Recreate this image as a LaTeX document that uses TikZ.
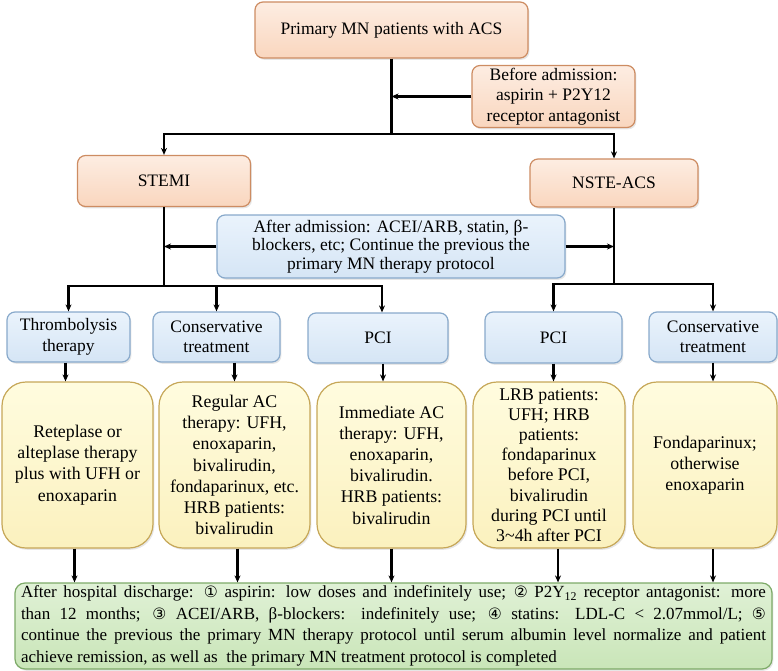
\documentclass[tikz,border=0pt]{standalone}
\usepackage{fontspec}
\setmainfont{Liberation Serif}
\newfontfamily\circfont[Scale=0.92]{DejaVu Sans}
\usetikzlibrary{arrows.meta,shadows}

\definecolor{orangetop}{HTML}{FDEDE2}
\definecolor{orangebot}{HTML}{F9D6BE}
\definecolor{orangeline}{HTML}{CD8C62}
\definecolor{bluetop}{HTML}{EAF3FC}
\definecolor{bluebot}{HTML}{D5E5F5}
\definecolor{blueline}{HTML}{88A9CB}
\definecolor{yellowtop}{HTML}{FFFCDF}
\definecolor{yellowbot}{HTML}{FBF1BE}
\definecolor{yellowline}{HTML}{C6A758}
\definecolor{greentop}{HTML}{E0F1D6}
\definecolor{greenbot}{HTML}{C9E5B8}
\definecolor{greenline}{HTML}{7DAA68}

\newcommand{\cnum}[1]{{\circfont #1}}

\tikzset{
    box/.style={draw, line width=1.2pt, align=center, inner sep=2pt,
        font=\fontsize{17.5}{20.5}\selectfont,
        drop shadow={opacity=0.2, shadow xshift=1.4pt, shadow yshift=-1.8pt}},
    orangebox/.style={box, rounded corners=8pt, draw=orangeline,
        top color=orangetop, bottom color=orangebot},
    bluebox/.style={box, rounded corners=8pt, draw=blueline,
        top color=bluetop, bottom color=bluebot},
    yellowbox/.style={box, rounded corners=24pt, draw=yellowline,
        top color=yellowtop, bottom color=yellowbot, minimum height=166pt,
        font=\fontsize{17.8}{21.2}\selectfont},
    greenbox/.style={box, rounded corners=10pt, draw=greenline,
        top color=greentop, bottom color=greenbot},
    link/.style={line width=2.2pt},
    arr/.style={link, -{Stealth[length=7pt,width=6pt]}}
}

\begin{document}
\begin{tikzpicture}[x=1pt,y=-1pt]
    \useasboundingbox (0,0) rectangle (778,671);

    % Top level
    \node[orangebox, minimum width=273pt, minimum height=56pt] (acs) at (391.5,30)
        {Primary MN patients with ACS};
    \node[orangebox, minimum width=163pt, minimum height=62pt] (before) at (553.5,96.5)
        {Before admission:\\aspirin + P2Y12\\receptor antagonist};

    % Diagnosis
    \node[orangebox, minimum width=173pt, minimum height=51pt] (stemi) at (164,181) {STEMI};
    \node[orangebox, minimum width=168pt, minimum height=48pt] (nste) at (614,183) {NSTE-ACS};

    \node[bluebox, minimum width=348pt, minimum height=63pt,
        font=\fontsize{17.5}{18.5}\selectfont] (after) at (391,246.5)
        {After admission: ACEI/ARB, statin, β-\\blockers, etc; Continue the previous the\\primary MN therapy protocol};

    % Treatment
    \node[bluebox, minimum width=123pt, minimum height=50pt] (thromb) at (68.5,337)
        {Thrombolysis\\therapy};
    \node[bluebox, minimum width=127pt, minimum height=50pt] (consS) at (216.5,337)
        {Conservative\\treatment};
    \node[bluebox, minimum width=140pt, minimum height=50pt] (pciS) at (378,338) {PCI};
    \node[bluebox, minimum width=137pt, minimum height=51pt] (pciN) at (553.5,337.5) {PCI};
    \node[bluebox, minimum width=128pt, minimum height=50pt] (consN) at (713,337)
        {Conservative\\treatment};

    % Anticoagulation
    \node[yellowbox, minimum width=151pt] (acThromb) at (77.5,465)
        {Reteplase or\\alteplase therapy\\plus with UFH or\\enoxaparin};
    \node[yellowbox, minimum width=151pt] (acConsS) at (234.5,465)
        {Regular AC\\therapy: UFH,\\enoxaparin,\\bivalirudin,\\fondaparinux, etc.\\HRB patients:\\bivalirudin};
    \node[yellowbox, minimum width=149pt] (acPciS) at (391.5,465)
        {Immediate AC\\therapy: UFH,\\enoxaparin,\\bivalirudin.\\HRB patients:\\bivalirudin};
    \node[yellowbox, minimum width=152pt, font=\fontsize{17.8}{20.2}\selectfont] (acPciN) at (549,465)
        {LRB patients:\\UFH; HRB\\patients:\\fondaparinux\\before PCI,\\bivalirudin\\during PCI until\\3\textasciitilde4h after PCI};
    \node[yellowbox, minimum width=144pt] (acConsN) at (705,465)
        {Fondaparinux;\\otherwise\\enoxaparin};

    % Discharge
    \node[greenbox, minimum width=757pt, minimum height=86pt, text width=745pt,
        align=justify, font=\fontsize{17}{21.5}\selectfont] (discharge) at (393.5,626)
        {After hospital discharge: \cnum{①} aspirin: low doses and indefinitely use; \cnum{②} P2Y\textsubscript{12} receptor antagonist: more\linebreak
        than 12 months; \cnum{③} ACEI/ARB, β-blockers: indefinitely use; \cnum{④} statins: LDL-C < 2.07mmol/L; \cnum{⑤}\linebreak
        continue the previous the primary MN therapy protocol until serum albumin level normalize and patient\linebreak
        achieve remission, as well as~ the primary MN treatment protocol is completed};

    % Connectors
    \coordinate (split) at (391.5,134);
    \draw[link] (acs.south) -- (split);
    \draw[arr] (before.west) -- (before.west -| acs.south);
    \draw[arr] (split) -| (stemi.north);
    \draw[arr] (split) -| (nste.north);

    \coordinate (splitS) at (164,286);
    \coordinate (splitN) at (614,284);
    \draw[link] (stemi.south) -- (splitS);
    \draw[link] (nste.south) -- (splitN);
    \draw[arr] (after.west) -- (after.west -| stemi.south);
    \draw[arr] (after.east) -- (after.east -| nste.south);

    \draw[arr] (splitS) -| (thromb.north);
    \draw[arr] (splitS) -| (consS.north);
    \draw[arr] (splitS) -| ([xshift=4pt]pciS.north);
    \draw[arr] (splitN) -| (pciN.north);
    \draw[arr] (splitN) -| (consN.north);

    \draw[arr] ([xshift=-3pt]thromb.south) -- ([xshift=-3pt]thromb.south |- acThromb.north);
    \draw[arr] (acConsS.north |- consS.south) -- (acConsS.north);
    \draw[arr] ([xshift=5pt]pciS.south) -- ([xshift=5pt]pciS.south |- acPciS.north);
    \draw[arr] (pciN.south) -- (pciN.south |- acPciN.north);
    \draw[arr] (consN.south) -- (consN.south |- acConsN.north);

    \draw[arr] ([xshift=-3pt]acThromb.south) -- ([xshift=-3pt]acThromb.south |- discharge.north);
    \draw[arr] ([xshift=3pt]acConsS.south) -- ([xshift=3pt]acConsS.south |- discharge.north);
    \draw[arr] (acPciS.south) -- (acPciS.south |- discharge.north);
    \draw[arr] ([xshift=9pt]acPciN.south) -- ([xshift=9pt]acPciN.south |- discharge.north);
    \draw[arr] ([xshift=8pt]acConsN.south) -- ([xshift=8pt]acConsN.south |- discharge.north);
\end{tikzpicture}
\end{document}
